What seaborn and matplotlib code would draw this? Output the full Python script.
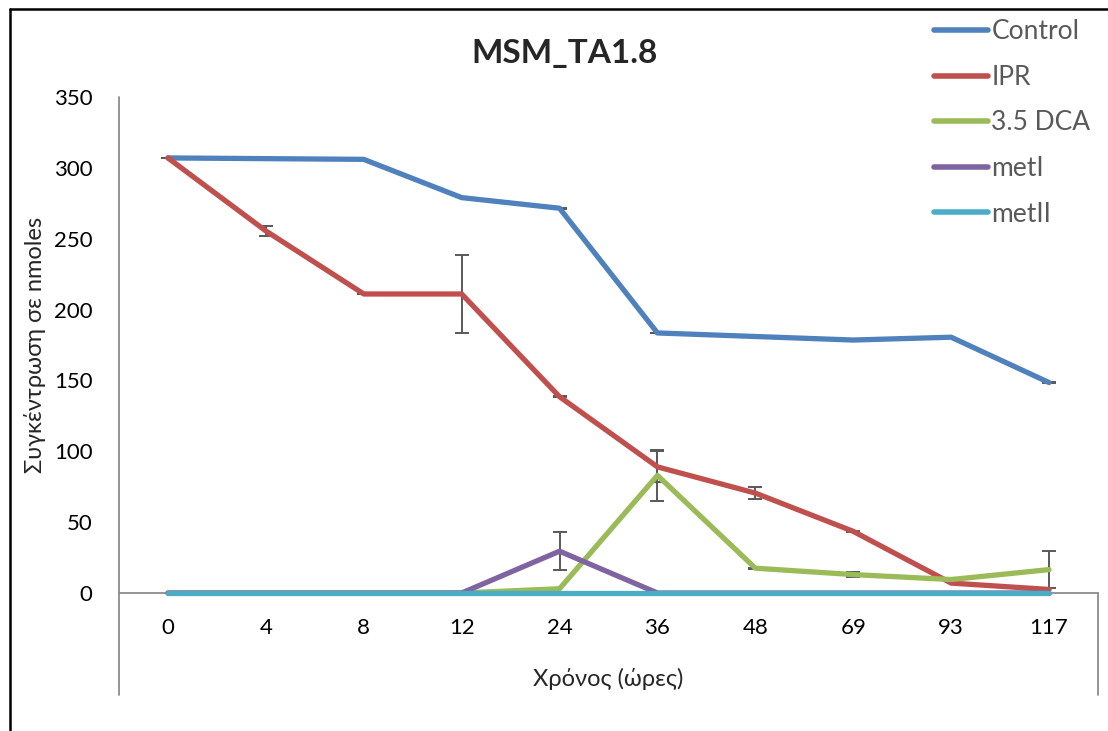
import numpy as np
import pandas as pd
import seaborn as sns
import matplotlib.pyplot as plt
from matplotlib.lines import Line2D

# ωρες δειγματοληψιας (κατηγορικος αξονας)
hours = ['0', '4', '8', '12', '24', '36', '48', '69', '93', '117']

control = [307, 306.5, 306, 279, 271.5, 183.5, 181, 178.5, 180.5, 148.5]
ipr = [307, 255.5, 211, 211, 138.5, 89, 70.5, 43.5, 7, 2.5]
dca = [0, 0, 0, 0, 3, 83, 17.5, 13, 9.5, 16.5]
met1 = [0, 0, 0, 0, 29.5, 0, 0, 0, 0, 0]
met2 = [0, 0, 0, 0, 0, 0, 0, 0, 0, 0]

# τυπικα σφαλματα (nan = χωρις μπαρα)
nan = np.nan
control_err = [0.3, nan, nan, nan, 0.3, 0.3, nan, nan, nan, 0.3]
ipr_err = [nan, 3.5, 0.3, 27.5, 0.5, 11, 4.5, 0.5, nan, nan]
dca_err = [nan, nan, nan, nan, nan, 18, 0.3, 2, nan, 13]
met1_err = [nan, nan, nan, nan, 13.5, nan, nan, nan, nan, nan]
met2_err = [nan] * 10

series_names = ['Control', 'IPR', '3.5 DCA', 'metI', 'metII']
colors = ['#4F81BD', '#C0504D', '#9BBB59', '#8064A2', '#4BACC6']

values = [control, ipr, dca, met1, met2]
errors = [control_err, ipr_err, dca_err, met1_err, met2_err]

rows = []
for name, vals in zip(series_names, values):
    for i, v in enumerate(vals):
        rows.append({'idx': i, 'value': v, 'series': name})
df = pd.DataFrame(rows)

sns.set_style('white')
plt.rcParams['font.family'] = ['Lato', 'Noto Sans', 'DejaVu Sans']

fig = plt.figure(figsize=(11.08, 7.31), dpi=100)
ax = fig.add_axes([119 / 1108, 1 - 593 / 731, (1098 - 119) / 1108, (593 - 97) / 731])

sns.lineplot(data=df, x='idx', y='value', hue='series', hue_order=series_names,
             palette=colors, linewidth=3.8, ax=ax, sort=False,
             solid_capstyle='round', zorder=3)
for ln in ax.lines:
    ln.set_clip_on(False)

for vals, errs in zip(values, errors):
    ax.errorbar(range(len(hours)), vals, yerr=errs, fmt='none', ecolor='#595959',
                elinewidth=1.4, capsize=5, capthick=1.4, zorder=2.5)

ax.set_xlim(-0.5, len(hours) - 0.5)
ax.set_ylim(0, 350)
ax.set_yticks(np.arange(0, 351, 50))
ax.set_xticks(range(len(hours)))
ax.set_xticklabels(hours)
ax.tick_params(axis='both', length=0, labelsize=16, colors='black')
ax.tick_params(axis='x', pad=18)
ax.tick_params(axis='y', pad=19)

for s in ax.spines.values():
    s.set_visible(False)

# αξονες οπως στο excel
axis_gray = '#8c8c8c'
ax.plot([0, 0], [-0.206, 1], transform=ax.transAxes, clip_on=False, color=axis_gray, lw=1.3, zorder=1)
ax.plot([1, 1], [-0.206, 0], transform=ax.transAxes, clip_on=False, color=axis_gray, lw=1.3, zorder=1)
ax.plot([0, 1], [0, 0], transform=ax.transAxes, clip_on=False, color=axis_gray, lw=1.3, zorder=1)

ax.set_xlabel('Χρόνος (ώρες)', fontsize=17)
ax.set_ylabel('Συγκέντρωση σε nmoles', fontsize=17)
ax.xaxis.set_label_coords(0.5, -0.152)
ax.yaxis.set_label_coords(-0.075, 0.5)

fig.text(565 / 1108, 1 - 53 / 731, 'MSM_TA1.8', ha='center', va='center',
         fontsize=24, fontweight='bold')

leg = ax.legend(loc='upper left', bbox_to_anchor=(921 / 1108, 1 - 6 / 731),
                bbox_transform=fig.transFigure, frameon=False, fontsize=19,
                handlelength=2.05, handletextpad=0.12, labelspacing=0.78, borderpad=0)
for t in leg.get_texts():
    t.set_color('#595959')
for h in leg.get_lines():
    h.set_linewidth(4)

# περιγραμμα γραφηματος
fig.add_artist(Line2D([10 / 1108, 10 / 1108], [0, 1 - 9 / 731], color='black', lw=1.8))
fig.add_artist(Line2D([10 / 1108, 1], [1 - 9 / 731, 1 - 9 / 731], color='black', lw=1.8))

fig.savefig('out.png', dpi=100)
